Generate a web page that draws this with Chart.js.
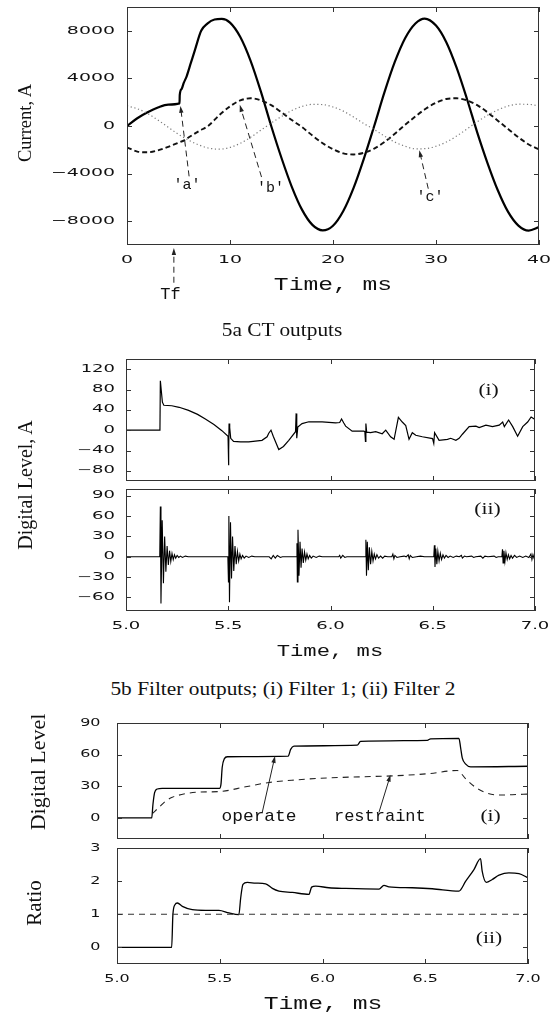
<!DOCTYPE html>
<html>
<head>
<meta charset="utf-8">
<script src="https://cdn.jsdelivr.net/npm/chart.js@4.4.1/dist/chart.umd.min.js"></script>
<style>
  html, body { margin: 0; padding: 0; background: #fff; }
  #page { position: relative; width: 556px; height: 1013px; overflow: hidden; }
  canvas { position: absolute; left: 0; }
  .t { position: absolute; white-space: nowrap; line-height: 1; color: #111; transform: translate(-50%, -50%); }
  .rot { transform: translate(-50%, -50%) rotate(-90deg); }
  .serif { font-family: "Liberation Serif", "Times New Roman", serif; }
  .mono { font-family: "Liberation Mono", "Courier New", monospace; }
</style>
</head>
<body>
<div id="page">
  <canvas id="c1"></canvas>
  <canvas id="c2"></canvas>
  <canvas id="c3"></canvas>
  <canvas id="c4"></canvas>
  <canvas id="c5"></canvas>

  <div class="t serif rot" style="left:24.5px;top:123px;font-size:18.5px">Current, A</div>
  <div class="t mono fit" data-w="118" style="left:332.5px;top:285px;font-size:19px">Time, ms</div>
  <div class="t serif fit" data-w="121" style="left:282px;top:330px;font-size:18px">5a CT outputs</div>

  <div class="t serif rot" style="left:25px;top:485px;font-size:20px">Digital Level, A</div>
  <div class="t mono fit" data-w="107" style="left:330px;top:651px;font-size:17px">Time, ms</div>
  <div class="t serif fit" data-w="345" style="left:282.5px;top:689px;font-size:18px">5b Filter outputs; (i) Filter 1; (ii) Filter 2</div>

  <div class="t serif rot" style="left:37.5px;top:772px;font-size:22px">Digital Level</div>
  <div class="t serif rot" style="left:34px;top:903px;font-size:21px">Ratio</div>
  <div class="t mono fit" data-w="118" style="left:322.5px;top:1004px;font-size:18px">Time, ms</div>
</div>

<script>
// ---------- 5a: CT outputs (time in ms, current in A) ----------
var aT = [0, 1, 2, 3, 4, 5.1, 5.12, 5.3, 5.5, 5.8, 6.2, 6.6, 7.2, 7.8, 8.5, 9.2, 10, 11, 12, 13, 14, 15, 16, 17, 18, 19, 20, 21, 22, 23, 24, 25, 26, 27, 28, 28.9, 30, 31, 32, 33, 34, 35, 36, 37, 38, 39, 40];
var aV = [0, 650, 1150, 1550, 1800, 1900, 2600, 3100, 3600, 4200, 5300, 6400, 8000, 8600, 8950, 9000, 8690, 7480, 5480, 2890, 0, -2690, -5110, -7050, -8310, -8770, -8380, -7140, -5200, -2740, 0, 2840, 5380, 7380, 8620, 9030, 8440, 7040, 4900, 2290, -530, -3110, -5400, -7220, -8370, -8790, -8500];

var bT = [0, 1, 2, 3, 4, 5, 5.6, 6, 7, 7.87, 9, 10, 11, 12, 13, 14, 15, 16, 17, 18, 19, 20, 21, 22, 23, 24, 25, 26, 27, 28, 29, 30, 31, 32, 33, 34, 35, 36, 37, 38, 39, 40];
var bV = [-1800, -2150, -2210, -2050, -1750, -1400, -1180, -950, -420, 0, 950, 1650, 2150, 2330, 2150, 1750, 1150, 500, -100, -800, -1450, -1950, -2300, -2390, -2250, -1900, -1350, -650, 100, 800, 1450, 1950, 2270, 2330, 2150, 1750, 1150, 450, -250, -950, -1550, -1970];

var cT = [0, 1, 2, 3, 4, 5, 6, 7, 8, 9, 10, 11, 12, 13, 14, 15, 16, 17, 18, 19, 20, 21, 22, 23, 24, 25, 26, 27, 28, 29, 30, 31, 32, 33, 34, 35, 36, 37, 38, 39, 40];
var cV = [1690, 1450, 1050, 500, -100, -700, -1200, -1600, -1870, -1945, -1800, -1450, -950, -350, 250, 800, 1300, 1650, 1820, 1800, 1600, 1250, 750, 200, -300, -850, -1350, -1700, -1920, -1900, -1700, -1350, -850, -250, 350, 900, 1350, 1680, 1830, 1820, 1690];

// ---------- 5b: filter outputs ----------
var f1T = [5.0, 5.166, 5.168, 5.172, 5.178, 5.185, 5.224, 5.26, 5.306, 5.35, 5.388, 5.43, 5.469, 5.499, 5.501, 5.503, 5.504, 5.507, 5.512, 5.526, 5.56, 5.6, 5.665, 5.69, 5.698, 5.709, 5.72, 5.747, 5.77, 5.796, 5.829, 5.832, 5.835, 5.84, 5.861, 5.894, 5.959, 6.025, 6.045, 6.054, 6.065, 6.074, 6.106, 6.163, 6.168, 6.171, 6.173, 6.177, 6.196, 6.221, 6.253, 6.27, 6.294, 6.311, 6.332, 6.351, 6.368, 6.384, 6.4, 6.417, 6.449, 6.499, 6.505, 6.509, 6.531, 6.572, 6.588, 6.613, 6.629, 6.645, 6.678, 6.711, 6.727, 6.76, 6.792, 6.825, 6.842, 6.85, 6.871, 6.891, 6.915, 6.94, 6.964, 6.981, 7.0];
var f1V = [0, 0, 97, 80, 55, 49, 48, 45, 39, 31, 22, 11, -1, -12, -69, -40, 13, 5, -16, -22, -23, -23, -20, -13, -6, 0, -12, -38, -32, -20, -3, 33, -16, 6, 13, 16.5, 16.5, 14.5, 15, 22, 14, 8, -2, -2, -3, -22, 13, -4, -5, -3, -7, 0, -13, -18, 25, 16, 9, -18, -5, -10, -13, -16.5, -26, -5, -20, -18, -16, -20, -16, -8, 7, 8, 5, 10, 7, 10, 16, 7, 20, 7, -12, 7, 16, 26, 21];

var f2T = [5.0, 5.165, 5.168, 5.171, 5.177, 5.183, 5.189, 5.195, 5.201, 5.207, 5.213, 5.219, 5.225, 5.231, 5.237, 5.243, 5.25, 5.258, 5.266, 5.276, 5.29, 5.305,
           5.498, 5.501, 5.503, 5.506, 5.511, 5.516, 5.521, 5.527, 5.533, 5.539, 5.545, 5.551, 5.557, 5.563, 5.57, 5.578, 5.587, 5.6, 5.615, 5.63,
           5.70, 5.71, 5.72, 5.73, 5.74, 5.755, 5.765,
           5.833, 5.836, 5.838, 5.841, 5.846, 5.851, 5.856, 5.861, 5.867, 5.873, 5.879, 5.885, 5.891, 5.898, 5.906, 5.915, 5.93, 5.945, 5.96,
           6.04, 6.045, 6.05, 6.06, 6.07, 6.08,
           6.17, 6.173, 6.176, 6.18, 6.185, 6.19, 6.196, 6.202, 6.208, 6.214, 6.22, 6.227, 6.235, 6.245, 6.255, 6.265, 6.28,
           6.3, 6.305, 6.31, 6.315, 6.325, 6.34, 6.36, 6.37, 6.38, 6.385, 6.39, 6.4, 6.42, 6.44, 6.46,
           6.505, 6.508, 6.511, 6.515, 6.52, 6.525, 6.531, 6.537, 6.543, 6.55, 6.557, 6.565, 6.575, 6.585, 6.6, 6.615, 6.63, 6.64, 6.645, 6.655, 6.665, 6.69, 6.7, 6.71, 6.735, 6.745, 6.755, 6.77, 6.8, 6.81, 6.82,
           6.838, 6.841, 6.844, 6.848, 6.853, 6.858, 6.864, 6.87, 6.876, 6.883, 6.89, 6.9, 6.91, 6.925, 6.94, 6.955, 6.97, 6.98, 6.985, 6.99, 6.995, 7.0];
var f2V = [0, 0, 74, -69, 54, -39, 30, -22, 16, -12, 9, -7, 5, -4, 3, -2, 2, -1, 1, -1, 1, 0,
           0, -37, 60, -67, 51, -32, 30, -21, 16, -11, 8, -6, 4, -3, 2, -2, 1, -1, 1, 0,
           0, -3, 2, -2, 2, -1, 0,
           0, 20, -37, 40, -28, 22, -16, 12, -9, 7, -5, 4, -3, 2, -2, 1, -1, 1, 0,
           0, 2, -2, 2, -1, 0,
           0, 25, -28, 22, -20, 14, -11, 8, -6, 4, -3, 3, -2, 1, -2, 1, 0,
           0, 4, -3, 2, -1, 0, 1, 0, 3, -3, 2, -1, 0, 1, 0,
           0, 17, -15, 12, -11, 8, -6, 5, -4, 3, -2, 2, -1, 1, -1, 1, 0, 2, -2, 1, 0, 1, -1, 0, 1, -2, 1, 0, 1, -1, 0,
           0, 11, -9, 9, -7, 6, -4, 3, -3, 2, -2, 2, -1, 1, -1, 1, -1, 4, -4, 3, -2, 1];

// operate / restraint (digital level)
var opT = [5.0, 5.169, 5.175, 5.183, 5.196, 5.22, 5.499, 5.506, 5.512, 5.522, 5.537, 5.833, 5.845, 5.861, 6.169, 6.185, 6.51, 6.526, 6.664, 6.672, 6.68, 6.697, 6.721, 7.0];
var opV = [0, 0, 13, 24, 27.4, 28, 28, 32, 48, 56, 58, 58.5, 65, 68, 69, 72.5, 73.6, 75, 75.5, 66.7, 57, 51, 48.4, 49];
var rsT = [5.172, 5.204, 5.237, 5.269, 5.334, 5.399, 5.499, 5.626, 5.74, 5.869, 6.031, 6.194, 6.356, 6.518, 6.656, 6.697, 6.745, 6.794, 6.858, 6.923, 7.0];
var rsV = [4, 10, 16, 19.5, 23, 24.5, 25, 29.5, 33.6, 36, 38, 39, 40, 42, 45, 37, 29, 24, 21.7, 22, 22.6];

// operate / restraint ratio
var rtT = [5.0, 5.266, 5.272, 5.282, 5.294, 5.318, 5.366, 5.431, 5.496, 5.545, 5.593, 5.602, 5.613, 5.634, 5.675, 5.723, 5.756, 5.788, 5.853, 5.934, 5.947, 5.967, 6.031, 6.112, 6.275, 6.299, 6.323, 6.437, 6.534, 6.664, 6.697, 6.737, 6.769, 6.777, 6.797, 6.826, 6.859, 6.907, 6.956, 7.0];
var rtV = [0, 0, 0.99, 1.29, 1.34, 1.24, 1.14, 1.12, 1.12, 1.04, 0.99, 1.5, 1.9, 1.96, 1.94, 1.92, 1.78, 1.70, 1.66, 1.60, 1.82, 1.85, 1.80, 1.78, 1.76, 1.87, 1.83, 1.80, 1.77, 1.70, 2.0, 2.35, 2.68, 2.3, 1.96, 2.05, 2.18, 2.25, 2.23, 2.1];
var thT = [5.0, 7.0];
var thV = [1, 1];

// tick values
var xTicksA = [0, 10, 20, 30, 40];
var yTicksA = [-8000, -4000, 0, 4000, 8000];
var xTicksB = [5.0, 5.5, 6.0, 6.5, 7.0];
var yTicksF1 = [-80, -40, 0, 40, 80, 120];
var yTicksF2 = [-60, -30, 0, 30, 60, 90];
var yTicksOp = [0, 30, 60, 90];
var yTicksRt = [0, 1, 2, 3];

function pts(xs, ys) {
  return xs.map(function (x, i) { return { x: x, y: ys[i] }; });
}
function minus(v) { return v < 0 ? '\u2212' + (-v) : String(v); }
function fixed1(v) { return v.toFixed(1); }

// the old plot fonts are very wide: text on each canvas is stretched sideways
// by the factor stored on the canvas element (data-sx)
var nativeFill = CanvasRenderingContext2D.prototype.fillText;
CanvasRenderingContext2D.prototype.fillText = function (s, x, y) {
  var sx = this._tmpSx || parseFloat(this.canvas.dataset.sx) || 1;
  this.save();
  this.translate(x, y);
  this.scale(sx, 1);
  nativeFill.call(this, s, 0, 0);
  this.restore();
};

// box round the plot with inward ticks on all four sides
var frame = {
  id: 'frame',
  afterDatasetsDraw: function (chart) {
    var ctx = chart.ctx, a = chart.chartArea, x = chart.scales.x, y = chart.scales.y;
    ctx.save();
    ctx.strokeStyle = '#333';
    ctx.lineWidth = 1;
    ctx.strokeRect(a.left + 0.5, a.top + 0.5, a.right - a.left - 1, a.bottom - a.top - 1);
    ctx.beginPath();
    x.ticks.forEach(function (t) {
      var px = Math.round(x.getPixelForValue(t.value)) + 0.5;
      ctx.moveTo(px, a.bottom); ctx.lineTo(px, a.bottom - 5);
      ctx.moveTo(px, a.top); ctx.lineTo(px, a.top + 5);
    });
    y.ticks.forEach(function (t) {
      var py = Math.round(y.getPixelForValue(t.value)) + 0.5;
      ctx.moveTo(a.left, py); ctx.lineTo(a.left + 5, py);
      ctx.moveTo(a.right, py); ctx.lineTo(a.right - 5, py);
    });
    ctx.stroke();
    ctx.restore();
  }
};

// text labels and arrows placed in data units
var notes = {
  id: 'notes',
  afterDraw: function (chart, args, opts) {
    var ctx = chart.ctx, x = chart.scales.x, y = chart.scales.y;
    (opts.items || []).forEach(function (it) {
      ctx.save();
      if (it.arrow) {
        var x1 = x.getPixelForValue(it.arrow[0][0]), y1 = y.getPixelForValue(it.arrow[0][1]);
        var x2 = x.getPixelForValue(it.arrow[1][0]), y2 = y.getPixelForValue(it.arrow[1][1]);
        var ang = Math.atan2(y2 - y1, x2 - x1);
        ctx.strokeStyle = '#222';
        ctx.fillStyle = '#222';
        ctx.lineWidth = 1;
        ctx.setLineDash(it.dash || []);
        ctx.beginPath();
        ctx.moveTo(x1, y1);
        ctx.lineTo(x2 - 4 * Math.cos(ang), y2 - 4 * Math.sin(ang));
        ctx.stroke();
        ctx.setLineDash([]);
        ctx.beginPath();
        ctx.moveTo(x2, y2);
        ctx.lineTo(x2 - 7 * Math.cos(ang) + 2.2 * Math.sin(ang), y2 - 7 * Math.sin(ang) - 2.2 * Math.cos(ang));
        ctx.lineTo(x2 - 7 * Math.cos(ang) - 2.2 * Math.sin(ang), y2 - 7 * Math.sin(ang) + 2.2 * Math.cos(ang));
        ctx.closePath();
        ctx.fill();
      } else {
        ctx.font = it.font;
        ctx.fillStyle = '#111';
        ctx.textAlign = 'center';
        ctx.textBaseline = 'middle';
        ctx._tmpSx = it.sx || 1;
        ctx.fillText(it.text, x.getPixelForValue(it.at[0]), y.getPixelForValue(it.at[1]));
        ctx._tmpSx = 0;
      }
      ctx.restore();
    });
  }
};

var mono = '15px "Liberation Mono"';
var roman = '16px "Liberation Serif"';

function panel(id, box, o) {
  var cv = document.getElementById(id);
  var top = 20;
  cv.width = 556;
  cv.height = box.b - box.t + top + o.below;
  cv.style.top = (box.t - top) + 'px';
  cv.dataset.sx = o.sx;
  var tickFont = { family: 'DejaVu Sans', size: o.fs };
  return new Chart(cv, {
    type: 'line',
    data: { datasets: o.sets },
    options: {
      responsive: false,
      animation: false,
      devicePixelRatio: 1,
      events: [],
      layout: { padding: { top: top, left: 0, right: 556 - box.r, bottom: 0 } },
      elements: { point: { radius: 0 } },
      plugins: {
        legend: { display: false },
        tooltip: { enabled: false },
        notes: { items: o.notes || [] }
      },
      scales: {
        x: {
          type: 'linear', min: o.xTicks[0], max: o.xTicks[o.xTicks.length - 1],
          afterBuildTicks: function (s) { s.ticks = o.xTicks.map(function (v) { return { value: v }; }); },
          afterFit: function (s) { s.height = o.below; },
          grid: { drawOnChartArea: false, drawTicks: true, tickLength: 5, tickColor: 'transparent' },
          border: { display: false },
          ticks: { display: o.xLabels, padding: 4, color: '#111', font: tickFont, maxRotation: 0, autoSkip: false, callback: o.xFmt }
        },
        y: {
          min: o.yMin, max: o.yMax,
          afterBuildTicks: function (s) { s.ticks = o.yTicks.map(function (v) { return { value: v }; }); },
          afterFit: function (s) { s.width = box.l; },
          grid: { drawOnChartArea: false, drawTicks: true, tickLength: o.gap - 3, tickColor: 'transparent' },
          border: { display: false },
          ticks: { padding: 3, color: '#111', font: tickFont, autoSkip: false, callback: minus }
        }
      }
    },
    plugins: [frame, notes]
  });
}

panel('c1', { l: 127, r: 539, t: 7, b: 245 }, {
  below: 55, xLabels: true, fs: 11, sx: 1.72, gap: 12,
  xTicks: xTicksA, xFmt: String, yTicks: yTicksA, yMin: -10000, yMax: 10000,
  sets: [
    { data: pts(cT, cV), borderColor: '#7a7a7a', borderWidth: 1.2, borderDash: [1.2, 2.6], cubicInterpolationMode: 'monotone' },
    { data: pts(bT, bV), borderColor: '#111', borderWidth: 1.9, borderDash: [5, 3], cubicInterpolationMode: 'monotone' },
    { data: pts(aT, aV), borderColor: '#000', borderWidth: 2.2, cubicInterpolationMode: 'monotone' }
  ],
  notes: [
    { arrow: [[6.03, -4230], [5.19, 1690]], dash: [6, 4] },
    { text: "'a'", at: [5.83, -4990], font: mono },
    { arrow: [[13.06, -4290], [10.95, 1776]], dash: [6, 4] },
    { text: "'b'", at: [13.93, -5185], font: mono },
    { arrow: [[29.25, -5270], [28.38, -2030]], dash: [6, 4] },
    { text: "'c'", at: [29.42, -5980], font: mono },
    { arrow: [[4.55, -13170], [4.55, -10260]], dash: [6, 4] },
    { text: 'Tf', at: [4.23, -14150], font: '17px "Liberation Mono"' }
  ]
});

panel('c2', { l: 126, r: 535, t: 359, b: 481 }, {
  below: 14, xLabels: false, fs: 10, sx: 1.8, gap: 11,
  xTicks: xTicksB, xFmt: fixed1, yTicks: yTicksF1, yMin: -100, yMax: 140,
  sets: [ { data: pts(f1T, f1V), borderColor: '#000', borderWidth: 1.2, tension: 0 } ],
  notes: [ { text: '(i)', at: [6.773, 77.8], font: roman, sx: 1.35 } ]
});

panel('c3', { l: 126, r: 535, t: 489, b: 611 }, {
  below: 30, xLabels: true, fs: 10, sx: 1.8, gap: 11,
  xTicks: xTicksB, xFmt: fixed1, yTicks: yTicksF2, yMin: -80, yMax: 100,
  sets: [ { data: pts(f2T, f2V), borderColor: '#000', borderWidth: 1.1, tension: 0 } ],
  notes: [ { text: '(ii)', at: [6.768, 68.7], font: roman, sx: 1.35 } ]
});

panel('c4', { l: 117, r: 528, t: 723, b: 839 }, {
  below: 14, xLabels: false, fs: 11, sx: 1.45, gap: 16.5,
  xTicks: xTicksB, xFmt: fixed1, yTicks: yTicksOp, yMin: -20, yMax: 90,
  sets: [
    { data: pts(rsT, rsV), borderColor: '#222', borderWidth: 1.1, borderDash: [6, 5], cubicInterpolationMode: 'monotone' },
    { data: pts(opT, opV), borderColor: '#000', borderWidth: 1.3, cubicInterpolationMode: 'monotone' }
  ],
  notes: [
    { arrow: [[5.707, 5.4], [5.769, 58.8]] },
    { arrow: [[6.275, 5.4], [6.331, 40.9]] },
    { text: 'operate', at: [5.691, 1.6], font: '17px "Liberation Mono"', sx: 1.05 },
    { text: 'restraint', at: [6.279, 1.6], font: '17px "Liberation Mono"', sx: 1.0 },
    { text: '(i)', at: [6.818, 1.5], font: roman, sx: 1.35 }
  ]
});

panel('c5', { l: 117, r: 528, t: 848, b: 964 }, {
  below: 30, xLabels: true, fs: 11, sx: 1.45, gap: 16.5,
  xTicks: xTicksB, xFmt: fixed1, yTicks: yTicksRt, yMin: -0.5, yMax: 3,
  sets: [
    { data: pts(thT, thV), borderColor: '#333', borderWidth: 1.1, borderDash: [6, 5] },
    { data: pts(rtT, rtV), borderColor: '#000', borderWidth: 1.3, cubicInterpolationMode: 'monotone' }
  ],
  notes: [ { text: '(ii)', at: [6.81, 0.25], font: roman, sx: 1.35 } ]
});

// squeeze / stretch the html captions to the widths seen in the figure
document.querySelectorAll('.fit').forEach(function (el) {
  var s = parseFloat(el.dataset.w) / el.offsetWidth;
  el.style.transform = 'translate(-50%, -50%) scaleX(' + s.toFixed(3) + ')';
});
</script>
</body>
</html>
